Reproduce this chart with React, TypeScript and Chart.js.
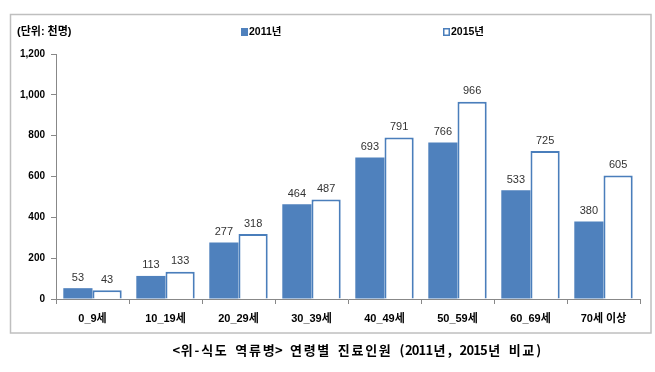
import React, { useEffect, useRef } from 'react';
import { Chart, registerables } from 'chart.js';
Chart.register(...registerables);

const categories = ['0_9세', '10_19세', '20_29세', '30_39세', '40_49세', '50_59세', '60_69세', '70세 이상'];
const values2011 = [53, 113, 277, 464, 693, 766, 533, 380];
const values2015 = [43, 133, 318, 487, 791, 966, 725, 605];
const seriesLabels = ['2011년', '2015년'];
const yMin = 0;
const yMax = 1200;
const yStep = 200;
const unitLabel = '(단위: 천명)';
const caption = '<위-식도 역류병> 연령별 진료인원 (2011년, 2015년 비교)';

const BLUE = '#4F81BD';
const BORDER_BLUE = '#4A7EBB';
const FONT = 'Arial, "Liberation Sans", "Noto Sans CJK KR", sans-serif';

const decorPlugin = {
  id: 'decor',
  beforeDraw(chart: any) {
    const ctx = chart.ctx;
    ctx.save();
    ctx.fillStyle = '#ffffff';
    ctx.fillRect(0, 0, chart.width, chart.height);
    ctx.strokeStyle = '#BFBFBF';
    ctx.lineWidth = 1.5;
    ctx.strokeRect(10.5, 14.5, 640.5, 318.5);
    ctx.restore();
  },
  afterDraw(chart: any) {
    const ctx = chart.ctx;
    ctx.save();
    // unit label
    ctx.fillStyle = '#000';
    ctx.font = `bold 11px ${FONT}`;
    ctx.textBaseline = 'middle';
    ctx.textAlign = 'left';
    ctx.fillText(unitLabel, 17, 32);

    // legend
    const legendX = [241, 443];
    chart.data.datasets.forEach((ds: any, i: number) => {
      const x = legendX[i];
      if (i === 0) {
        ctx.fillStyle = BLUE;
        ctx.fillRect(x, 28, 7, 8);
      } else {
        ctx.fillStyle = '#fff';
        ctx.fillRect(x, 28, 7, 8);
        ctx.strokeStyle = BORDER_BLUE;
        ctx.lineWidth = 1.5;
        ctx.strokeRect(x + 0.75, 28.75, 5.5, 6.5);
      }
      ctx.fillStyle = '#000';
      ctx.font = `bold 10.5px ${FONT}`;
      ctx.textAlign = 'left';
      ctx.textBaseline = 'middle';
      ctx.fillText(ds.label, x + 8, 32.5);
    });

    // data labels
    ctx.font = `11px ${FONT}`;
    ctx.fillStyle = '#333';
    ctx.textAlign = 'center';
    ctx.textBaseline = 'bottom';
    chart.data.datasets.forEach((ds: any, di: number) => {
      const meta = chart.getDatasetMeta(di);
      meta.data.forEach((bar: any, idx: number) => {
        ctx.fillText(String(ds.data[idx]), bar.x, bar.y - 5);
      });
    });

    // caption (emulating a fixed-width Korean font: Hangul full width, ASCII half width)
    ctx.font = `bold 13px "Noto Sans CJK KR", ${FONT}`;
    ctx.fillStyle = '#000';
    ctx.textBaseline = 'middle';
    ctx.textAlign = 'center';
    const chars = Array.from(caption);
    const isWide = (c: string) => c.charCodeAt(0) > 0x2e80;
    const units = chars.reduce((a, c) => a + (isWide(c) ? 2 : 1), 0);
    const startX = 173;
    const endX = 542;
    const unitW = (endX - startX) / units;
    let cx = startX;
    chars.forEach((ch) => {
      const w = (isWide(ch) ? 2 : 1) * unitW;
      ctx.fillText(ch, cx + w / 2, 350);
      cx += w;
    });
    ctx.restore();
  },
};

export default function App() {
  const ref = useRef<HTMLCanvasElement | null>(null);
  useEffect(() => {
    if (!ref.current) return;
    const chart = new Chart(ref.current, {
      type: 'bar',
      data: {
        labels: categories,
        datasets: [
          {
            label: seriesLabels[0],
            data: values2011,
            backgroundColor: BLUE,
            borderColor: BLUE,
            borderWidth: 0,
            categoryPercentage: 0.8,
            barPercentage: 1.0,
          },
          {
            label: seriesLabels[1],
            data: values2015,
            backgroundColor: '#ffffff',
            borderColor: BORDER_BLUE,
            borderWidth: 2,
            categoryPercentage: 0.8,
            barPercentage: 1.0,
          },
        ],
      },
      options: {
        responsive: false,
        animation: false,
        devicePixelRatio: 1,
        layout: { padding: { top: 54, right: 15, bottom: 0, left: 0 } },
        plugins: {
          legend: { display: false },
          title: { display: false },
          tooltip: { enabled: false },
        },
        scales: {
          x: {
            afterFit: (s: any) => { s.height = 73; },
            grid: { drawOnChartArea: false, drawTicks: true, tickLength: 5, color: '#888', offset: true },
            border: { color: '#888', width: 1 },
            ticks: { color: '#000', font: { family: FONT, size: 11, weight: 'bold' }, padding: 8, maxRotation: 0, autoSkip: false },
          },
          y: {
            min: yMin,
            max: yMax,
            afterFit: (s: any) => { s.width = 56; },
            grid: { drawOnChartArea: false, drawTicks: true, tickLength: 5, color: '#888' },
            border: { color: '#888', width: 1 },
            ticks: {
              stepSize: yStep,
              color: '#000',
              font: { family: FONT, size: 10, weight: 'bold' },
              padding: 6,
              callback: (v: any) => Number(v).toLocaleString('en-US'),
            },
          },
        },
      },
      plugins: [decorPlugin],
    });
    return () => chart.destroy();
  }, []);
  return (
    <div style={{ position: 'fixed', left: 0, top: 0, width: 655, height: 372 }}>
      <canvas ref={ref} width={655} height={372} style={{ display: 'block', width: 655, height: 372 }} />
    </div>
  );
}
